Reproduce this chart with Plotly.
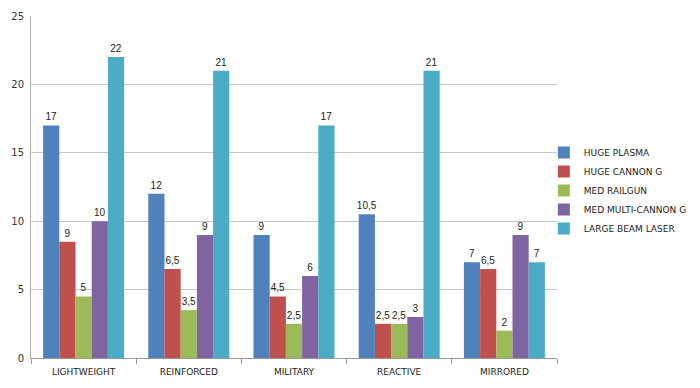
import plotly.graph_objects as go

categories = ["LIGHTWEIGHT", "REINFORCED", "MILITARY", "REACTIVE", "MIRRORED"]
series_names = ["HUGE PLASMA", "HUGE CANNON G", "MED RAILGUN", "MED MULTI-CANNON G", "LARGE BEAM LASER"]

huge_plasma = [17, 12, 9, 10.5, 7]
huge_cannon_g = [8.5, 6.5, 4.5, 2.5, 6.5]
med_railgun = [4.5, 3.5, 2.5, 2.5, 2]
med_multi_cannon_g = [10, 9, 6, 3, 9]
large_beam_laser = [22, 21, 17, 21, 7]

huge_plasma_labels = ["17", "12", "9", "10,5", "7"]
huge_cannon_g_labels = ["9", "6,5", "4,5", "2,5", "6,5"]
med_railgun_labels = ["5", "3,5", "2,5", "2,5", "2"]
med_multi_cannon_g_labels = ["10", "9", "6", "3", "9"]
large_beam_laser_labels = ["22", "21", "17", "21", "7"]

y_ticks = [0, 5, 10, 15, 20, 25]

values = [huge_plasma, huge_cannon_g, med_railgun, med_multi_cannon_g, large_beam_laser]
labels = [huge_plasma_labels, huge_cannon_g_labels, med_railgun_labels,
          med_multi_cannon_g_labels, large_beam_laser_labels]
colors = ["#4F81BD", "#C0504D", "#9BBB59", "#8064A2", "#4BACC6"]

fig = go.Figure()
for name, vals, labs, col in zip(series_names, values, labels, colors):
    fig.add_trace(go.Bar(
        name=name, x=categories, y=vals, text=labs,
        textposition="outside", cliponaxis=False, constraintext="none",
        textfont=dict(family="Liberation Sans, sans-serif", size=10, color="#222222"),
        marker=dict(color=col, line=dict(width=0)),
    ))

fig.update_layout(
    width=684, height=372,
    margin=dict(l=23, r=135, t=8, b=22, autoexpand=False),
    paper_bgcolor="white", plot_bgcolor="white",
    barmode="group", bargap=0.23, bargroupgap=0,
    showlegend=True,
    legend=dict(x=0.975, xanchor="left", y=0.49, yanchor="middle",
                font=dict(family="DejaVu Sans, sans-serif", size=9, color="#222222"),
                itemsizing="constant", itemwidth=30, tracegroupgap=0,
                bgcolor="rgba(0,0,0,0)"),
    uniformtext=dict(mode=False),
)
fig.update_xaxes(
    type="category", tickson="boundaries", ticks="outside", ticklen=5,
    tickcolor="#999999", showline=True, linecolor="#999999", linewidth=1,
    tickfont=dict(family="DejaVu Sans, sans-serif", size=9, color="#222222"),
    ticklabelstandoff=5,
    showgrid=False, automargin=False,
)
fig.update_yaxes(
    range=[0, 25], tickvals=y_ticks, showgrid=True, gridcolor="#C8C8C8", gridwidth=1,
    showline=True, linecolor="#B0B0B0", linewidth=1, ticks="", zeroline=False,
    tickfont=dict(family="DejaVu Sans, sans-serif", size=10, color="#333333"),
    ticklabelstandoff=4,
    automargin=False,
)

fig.write_html("out.html")
